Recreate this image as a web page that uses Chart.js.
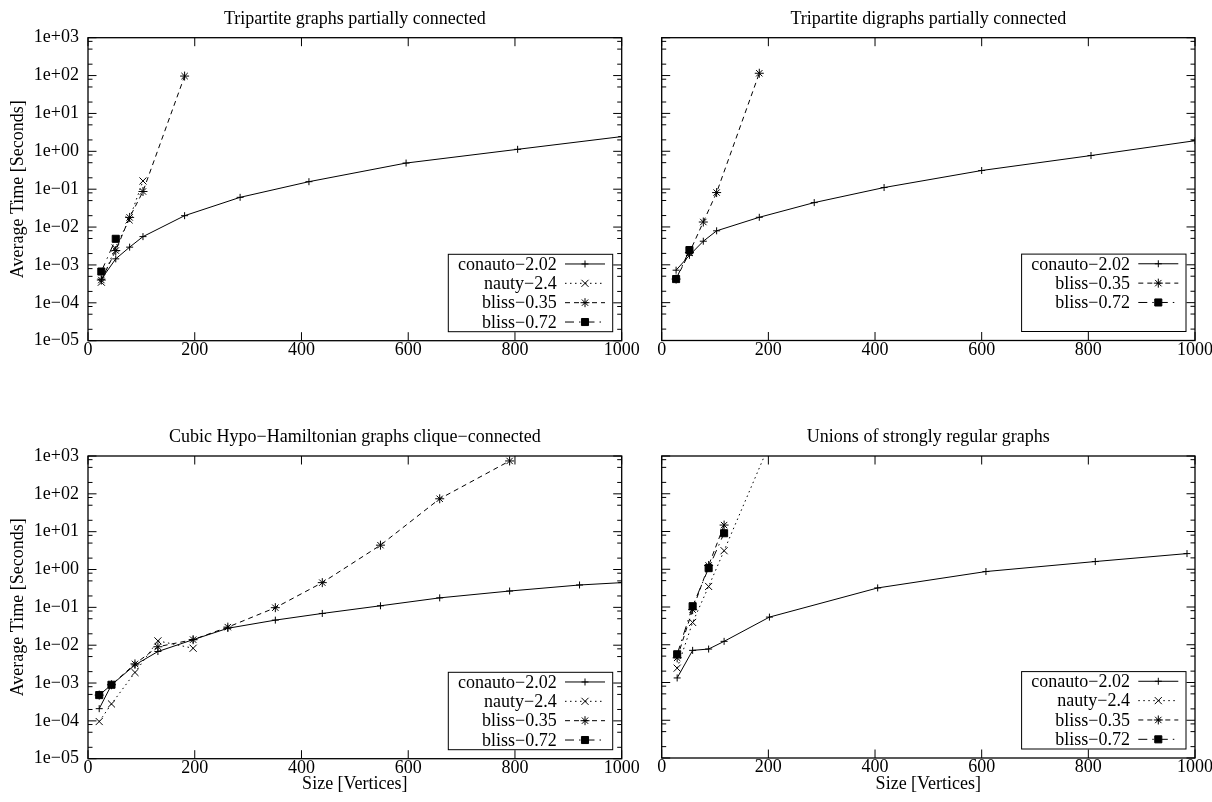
<!DOCTYPE html>
<html>
<head>
<meta charset="utf-8">
<script src="https://cdn.jsdelivr.net/npm/chart.js@4.4.1/dist/chart.umd.min.js"></script>
<style>
  body { margin: 0; background: #fff; width: 1212px; height: 802px; position: relative; overflow: hidden; }
  canvas { position: absolute; }
</style>
</head>
<body>
<canvas id="c1" width="640" height="400" style="left:0;top:0"></canvas>
<canvas id="c2" width="574" height="400" style="left:640px;top:0"></canvas>
<canvas id="c3" width="640" height="402" style="left:0;top:400px"></canvas>
<canvas id="c4" width="574" height="402" style="left:640px;top:400px"></canvas>
<script>
// --- data: [size, seconds] ---
const titles = [
  'Tripartite graphs partially connected',
  'Tripartite digraphs partially connected',
  'Cubic Hypo\u2212Hamiltonian graphs clique\u2212connected',
  'Unions of strongly regular graphs'
];
const seriesNames = ['conauto\u22122.02', 'nauty\u22122.4', 'bliss\u22120.35', 'bliss\u22120.72'];

const xTicks = [0, 200, 400, 600, 800, 1000];
const yTickValues = [1e-5, 1e-4, 1e-3, 1e-2, 1e-1, 1e0, 1e1, 1e2, 1e3];
const yTickLabels = ['1e\u221205', '1e\u221204', '1e\u221203', '1e\u221202', '1e\u221201', '1e+00', '1e+01', '1e+02', '1e+03'];

// tripartite graphs
const tripConauto = [[25, 4.2e-4], [52, 1.45e-3], [78, 2.95e-3], [103, 5.6e-3], [181, 0.02], [285, 0.061], [414, 0.158], [596, 0.49], [805, 1.13], [1000, 2.45]];
const tripNauty = [[25, 3.5e-4], [51, 2.8e-3], [77, 0.0155], [103, 0.165]];
const tripBliss035 = [[25, 4.0e-4], [52, 2.4e-3], [78, 0.018], [103, 0.087], [181, 97]];
const tripBliss072 = [[25, 6.7e-4], [52, 4.9e-3]];

// tripartite digraphs
const digrConauto = [[27, 7.2e-4], [52, 1.78e-3], [78, 4.2e-3], [103, 7.9e-3], [183, 0.018], [286, 0.044], [417, 0.11], [600, 0.31], [805, 0.77], [1000, 1.9]];
const digrBliss035 = [[27, 4.2e-4], [52, 2.1e-3], [78, 0.0135], [103, 0.081], [183, 115]];
const digrBliss072 = [[27, 4.2e-4], [52, 2.45e-3]];

// cubic hypo-hamiltonian
const hypoConauto = [[21, 2.1e-4], [44, 8.9e-4], [88, 3.0e-3], [131, 6.8e-3], [197, 0.014], [262, 0.028], [351, 0.046], [439, 0.069], [548, 0.11], [659, 0.178], [790, 0.27], [921, 0.39], [1000, 0.45]];
const hypoNauty = [[21, 9.6e-5], [44, 2.8e-4], [88, 1.9e-3], [131, 0.013], [197, 8.3e-3]];
const hypoBliss035 = [[21, 4.8e-4], [44, 9.0e-4], [88, 3.2e-3], [131, 9.1e-3], [197, 0.014], [262, 0.030], [351, 0.098], [439, 0.45], [548, 4.4], [659, 74], [790, 740]];
const hypoBliss072 = [[21, 4.8e-4], [44, 9.0e-4]];

// unions of strongly regular graphs
const srgConauto = [[29, 1.32e-3], [58, 7.1e-3], [88, 7.7e-3], [117, 0.0123], [202, 0.054], [405, 0.32], [608, 0.87], [813, 1.6], [985, 2.6]];
const srgNauty = [[29, 2.4e-3], [58, 0.039], [88, 0.35], [117, 3.1], [233, 2.2e4]];
const srgBliss035 = [[29, 4.5e-3], [58, 0.085], [88, 1.26], [117, 14.8]];
const srgBliss072 = [[29, 5.6e-3], [58, 0.105], [88, 1.07], [117, 9.0]];

// --- styles ---
const FONT = '"Liberation Serif", "DejaVu Serif", serif';
Chart.defaults.font.family = FONT;
Chart.defaults.font.size = 18;
Chart.defaults.color = '#000';

const seriesStyle = {
  'conauto\u22122.02': { borderDash: [], pointStyle: 'cross', pointRadius: 3.5 },
  'nauty\u22122.4': { borderDash: [1.5, 3.5], pointStyle: 'crossRot', pointRadius: 5 },
  'bliss\u22120.35': { borderDash: [5, 4], pointStyle: 'star', pointRadius: 4.5 },
  'bliss\u22120.72': { borderDash: [9, 5, 1.5, 5], pointStyle: 'rect', pointRadius: 5 }
};
const yMinorFactors = [2, 5, 8];

const framePlugin = {
  id: 'frame',
  afterDraw(chart) {
    const { ctx, chartArea: a, scales: { x, y } } = chart;
    ctx.save();
    ctx.strokeStyle = '#000';
    ctx.setLineDash([]);
    ctx.lineWidth = 1;
    ctx.beginPath();
    xTicks.forEach(v => {
      const px = x.getPixelForValue(v);
      ctx.moveTo(px, a.bottom); ctx.lineTo(px, a.bottom - 8.5);
      ctx.moveTo(px, a.top); ctx.lineTo(px, a.top + 8.5);
    });
    yTickValues.forEach(v => {
      const py = y.getPixelForValue(v);
      ctx.moveTo(a.left, py); ctx.lineTo(a.left + 8.5, py);
      ctx.moveTo(a.right, py); ctx.lineTo(a.right - 8.5, py);
      if (v < 1e3) {
        yMinorFactors.forEach(f => {
          const pm = y.getPixelForValue(v * f);
          ctx.moveTo(a.left, pm); ctx.lineTo(a.left + 4.5, pm);
          ctx.moveTo(a.right, pm); ctx.lineTo(a.right - 4.5, pm);
        });
      }
    });
    ctx.stroke();
    ctx.lineWidth = 1.3;
    ctx.strokeRect(a.left, a.top, a.right - a.left, a.bottom - a.top);
    ctx.restore();
  }
};

// gnuplot-like key, bottom right inside the plot
const keyPlugin = {
  id: 'key',
  afterDraw(chart) {
    const { ctx, chartArea: a } = chart;
    const rowH = 19.35;
    const right = a.right - 9, bottom = a.bottom - 9;
    const left = right - 164.4, top = bottom - rowH * 4;
    ctx.save();
    ctx.strokeStyle = '#000';
    ctx.fillStyle = '#000';
    ctx.lineWidth = 1;
    ctx.strokeRect(left, top, right - left, bottom - top);
    ctx.font = '18px ' + FONT;
    ctx.textAlign = 'right';
    ctx.textBaseline = 'middle';
    chart.data.datasets.forEach((ds, i) => {
      const cy = top + rowH * (i + 0.5);
      ctx.fillText(ds.label, right - 56, cy + 1);
      ctx.setLineDash(ds.borderDash);
      ctx.beginPath();
      ctx.moveTo(right - 47.7, cy); ctx.lineTo(right - 7.7, cy);
      ctx.stroke();
      ctx.setLineDash([]);
      Chart.helpers.drawPoint(ctx, { pointStyle: ds.pointStyle, radius: ds.pointRadius, borderWidth: 1, rotation: 0 }, right - 27.7, cy);
    });
    ctx.restore();
  }
};

function makePanel(id, p) {
  return new Chart(document.getElementById(id), {
    type: 'line',
    data: {
      datasets: p.series.map((pts, i) => {
        const name = seriesNames[p.names[i]];
        const st = seriesStyle[name];
        return {
          label: name,
          data: pts.map(([x, y]) => ({ x, y })),
          borderColor: '#000',
          backgroundColor: '#000',
          borderWidth: 1,
          borderDash: st.borderDash,
          pointStyle: st.pointStyle,
          pointRadius: st.pointRadius,
          pointBorderWidth: 1,
          pointBorderColor: '#000',
          pointBackgroundColor: '#000',
          fill: false,
          tension: 0,
          clip: 0
        };
      })
    },
    options: {
      responsive: false,
      animation: false,
      events: [],
      layout: { padding: { left: 0, right: p.padRight, top: 0, bottom: 0 } },
      plugins: {
        legend: { display: false },
        tooltip: { enabled: false },
        title: {
          display: true, text: p.title, fullSize: false, color: '#000',
          font: { size: 18, weight: 'normal' },
          padding: { top: p.titleTop, bottom: p.titleBottom }
        }
      },
      scales: {
        x: {
          type: 'linear', min: 0, max: 1000,
          grid: { display: false, drawTicks: false }, border: { display: false },
          ticks: { stepSize: 200, padding: -1.5, maxRotation: 0, color: '#000', callback: v => String(v) },
          title: { display: p.xTitle, text: 'Size [Vertices]', color: '#000', padding: { top: 0, bottom: 7.2 } },
          afterFit: s => { s.height = p.xHeight; }
        },
        y: {
          type: 'logarithmic', min: 1e-5, max: 1e3,
          grid: { display: false, drawTicks: false }, border: { display: false },
          afterBuildTicks: s => { s.ticks = yTickValues.map(v => ({ value: v })); },
          ticks: { display: p.yLabels, padding: 9, color: '#000', callback: (v, i) => yTickLabels[i] },
          title: { display: p.yLabels, text: 'Average Time [Seconds]', color: '#000', padding: { top: 7.5, bottom: 0 } },
          afterFit: s => { s.width = p.yWidth; }
        }
      }
    },
    plugins: [framePlugin, keyPlugin]
  });
}

makePanel('c1', { title: titles[0], series: [tripConauto, tripNauty, tripBliss035, tripBliss072], names: [0, 1, 2, 3],
  padRight: 18.3, yWidth: 88, yLabels: true, xTitle: false, xHeight: 59.3, titleTop: 8.2, titleBottom: 7.9 });
makePanel('c2', { title: titles[1], series: [digrConauto, digrBliss035, digrBliss072], names: [0, 2, 3],
  padRight: 19, yWidth: 21.7, yLabels: false, xTitle: false, xHeight: 59.5, titleTop: 8.2, titleBottom: 7.9 });
makePanel('c3', { title: titles[2], series: [hypoConauto, hypoNauty, hypoBliss035, hypoBliss072], names: [0, 1, 2, 3],
  padRight: 18.3, yWidth: 88, yLabels: true, xTitle: true, xHeight: 43.3, titleTop: 26.2, titleBottom: 8.2 });
makePanel('c4', { title: titles[3], series: [srgConauto, srgNauty, srgBliss035, srgBliss072], names: [0, 1, 2, 3],
  padRight: 19, yWidth: 21.7, yLabels: false, xTitle: true, xHeight: 44, titleTop: 26.2, titleBottom: 8.2 });
</script>
</body>
</html>
